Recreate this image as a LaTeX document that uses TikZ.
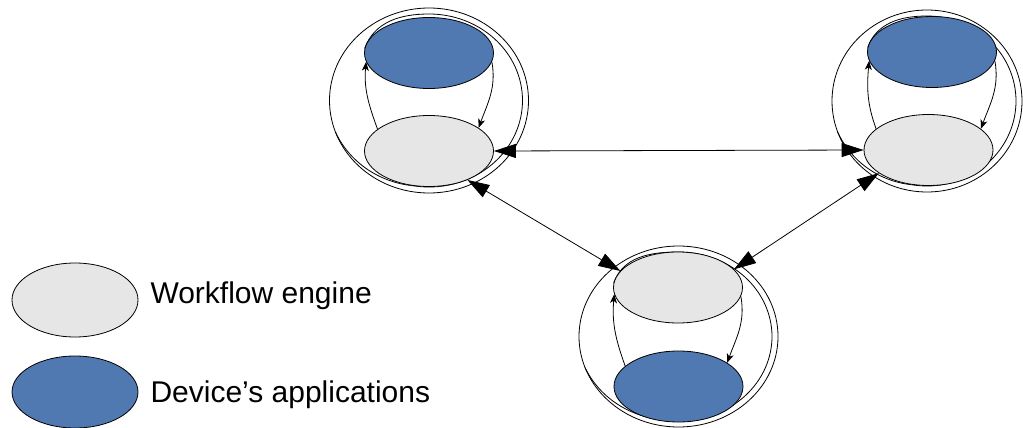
\documentclass[tikz,border=0pt]{standalone}
\usepackage{fontspec}
\setmainfont{Liberation Sans}
\usetikzlibrary{shapes.geometric,arrows.meta,backgrounds}

\definecolor{engfill}{RGB}{230,230,230}
\definecolor{appfill}{RGB}{79,121,176}

\tikzset{
  blob/.style={ellipse, draw=black, line width=0.8pt, inner sep=0pt},
  engine/.style={blob, fill=engfill, minimum width=129pt, minimum height=71pt},
  app/.style={blob, fill=appfill, minimum width=129pt, minimum height=71pt},
  ring/.style={ellipse, draw=black, line width=0.8pt, inner sep=0pt, fill=none},
  thin line/.style={line width=0.8pt},
  link/.style={line width=0.8pt, {Triangle[length=22pt,width=14pt]}-{Triangle[length=22pt,width=14pt]}},
  cycle arrow/.style={line width=0.8pt, -{Stealth[length=9pt,width=7pt,inset=2.5pt]}},
  legend text/.style={anchor=base west, font=\fontsize{30}{36}\selectfont}
}

% Inner line of a device ring: leaves the top node on its left side, runs
% over the top, down the right and round the bottom, then fades into the
% outer ring at the lower left.  (y grows downwards in this picture.)
\newcommand{\innerline}[5]{%
  \draw[thin line] (#1.176) to[out=70, in=180] ({#2},{#3-#5+6})
    -- plot[domain=-90:160, samples=90, smooth]
       ({#2+(#4-6*min(1,(160-\x)/60))*cos(\x)},
        {#3+(#5-6*min(1,(160-\x)/60))*sin(\x)});}

\begin{document}
\begin{tikzpicture}[x=1pt, y=-1pt]
\useasboundingbox (0,0) rectangle (1023,428);

% --- left device ---
\node[ring, minimum width=199pt, minimum height=185pt] (o1) at (429,100.5) {};
\node[app] (b1) at (429,53) {};
\node[engine] (g1) at (429,151) {};
\begin{pgfonlayer}{background}
  \innerline{b1}{429}{100.5}{99.5}{92.5}
\end{pgfonlayer}
\draw[cycle arrow] (g1.157) to[out=110, in=-95] (b1.188);
\draw[cycle arrow] (b1.-8) to[out=-80, in=70] (g1.25);

% --- right device ---
\node[ring, minimum width=190pt, minimum height=182pt] (o2) at (927,101) {};
\node[app] (b2) at (932,52) {};
\node[engine] (g2) at (928.5,150) {};
\begin{pgfonlayer}{background}
  \innerline{b2}{927}{101}{95}{91}
\end{pgfonlayer}
\draw[cycle arrow] (g2.158) to[out=110, in=-95] (b2.188);
\draw[cycle arrow] (b2.-8) to[out=-80, in=70] (g2.22);

% --- bottom device ---
\node[ring, minimum width=199pt, minimum height=181pt] (o3) at (678.5,336.5) {};
\node[engine] (g3) at (678,287.5) {};
\node[app] (b3) at (678.5,386.5) {};
\begin{pgfonlayer}{background}
  \innerline{g3}{678.5}{336.5}{99.5}{90.5}
\end{pgfonlayer}
\draw[cycle arrow] (b3.159) to[out=110, in=-95] (g3.186);
\draw[cycle arrow] (g3.-8) to[out=-80, in=70] (b3.26);

% --- links between engines ---
\draw[link] (g1.east) -- (g2.west);
\draw[link] (g1.-37) -- (g3.164);
\draw[link] (g2.-155) -- (g3.18);

% --- legend ---
\node[engine, minimum width=126pt, minimum height=74pt] (le) at (75,300) {};
\node[app, minimum width=126pt, minimum height=72pt] (la) at (75,392) {};
\node[legend text] (lt1) at (147,303) {Workflow engine};
\node[legend text] (lt2) at (147,402) {Device’s applications};
\end{tikzpicture}
\end{document}
